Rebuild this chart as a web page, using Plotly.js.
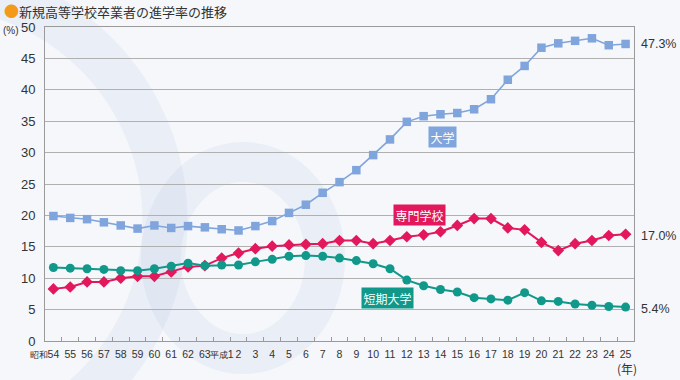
<!DOCTYPE html>
<html>
<head>
<meta charset="utf-8">
<script src="https://cdn.plot.ly/plotly-3.0.1.min.js"></script>
<style>html,body{margin:0;padding:0;background:#f5f7fb;}#chart{width:680px;height:380px;}</style>
</head>
<body>
<div id="chart"></div>
<script>
// ---- data ----
var years = ['昭和54','55','56','57','58','59','60','61','62','63',
  '平成1','2','3','4','5','6','7','8','9','10','11','12','13','14','15',
  '16','17','18','19','20','21','22','23','24','25'];
var daigaku = [19.9,19.6,19.4,18.9,18.4,17.9,18.4,18.0,18.3,18.1,
  17.8,17.6,18.3,19.1,20.4,21.7,23.6,25.3,27.2,29.6,32.1,34.9,35.8,36.1,36.3,
  36.9,38.5,41.6,43.8,46.7,47.4,47.8,48.2,47.1,47.3];
var senmon = [8.3,8.6,9.4,9.4,10.0,10.3,10.3,11.0,11.8,12.0,
  13.2,14.0,14.7,15.1,15.3,15.4,15.5,16.0,16.0,15.5,16.0,16.6,16.9,17.4,18.4,
  19.5,19.5,18.0,17.7,15.7,14.4,15.5,16.0,16.8,17.0];
var tanki = [11.7,11.6,11.5,11.4,11.2,11.2,11.5,11.9,12.4,12.0,
  12.1,12.1,12.6,13.0,13.5,13.6,13.5,13.2,12.8,12.3,11.5,9.7,8.8,8.2,7.8,
  6.9,6.7,6.5,7.7,6.4,6.3,5.9,5.7,5.5,5.4];
var seriesNames = ['大学','専門学校','短期大学'];
var endLabels = ['47.3%','17.0%','5.4%'];
var chartTitle = '新規高等学校卒業者の進学率の推移';

// ---- layout helpers (pixel -> paper) ----
var L = 45, R = 46, T = 27, B = 39, W = 680, H = 380;
var PW = W - L - R, PH = H - T - B;
function px(x){ return (x - L) / PW; }
function py(y){ return (H - B - y) / PH; }

// tick labels: era prefix drawn condensed (as in the reference)
var eraRe = /^(昭和|平成)(\d+)$/;
var preSize = 8.5;
var tickText = years.map(function(s, i){
  var m = s.match(eraRe);
  if (!m) return s;
  var pre = '<span style="font-size:' + preSize + 'px">' + m[1] + '</span>' + m[2];
  // first label: balance the prefix so the digits sit under the point
  if (i === 0) pre += '<span style="font-size:' + preSize + 'px">\u3000\u3000</span>';
  return pre;
});

var cBlue = '#7fa5dc', cRed = '#e3175b', cTeal = '#10998a';

var traces = [
  {x: years, y: daigaku, name: seriesNames[0], type: 'scatter', mode: 'lines+markers',
   line: {color: cBlue, width: 1.6}, marker: {symbol: 'square', size: 8.5, color: cBlue}},
  {x: years, y: senmon, name: seriesNames[1], type: 'scatter', mode: 'lines+markers',
   line: {color: cRed, width: 2}, marker: {symbol: 'diamond', size: 9, color: cRed}},
  {x: years, y: tanki, name: seriesNames[2], type: 'scatter', mode: 'lines+markers',
   line: {color: cTeal, width: 2}, marker: {symbol: 'circle', size: 9, color: cTeal}}
];

var ringColor = 'rgba(190,204,228,0.2)';
function ring(cx, cy, rx, ry, w){
  return {type:'circle', xref:'paper', yref:'paper', layer:'below',
    x0:px(cx-rx), x1:px(cx+rx), y0:py(cy+ry), y1:py(cy-ry),
    line:{color:ringColor, width:w}, fillcolor:'rgba(0,0,0,0)'};
}

var txt = '#333333';
var fontLat = 'Liberation Sans, Arial, sans-serif';
var fontJp = 'Noto Sans CJK JP, sans-serif';

var annotations = [
  {xref:'paper', yref:'paper', x:px(3), y:py(10.5), xanchor:'left', yanchor:'middle', showarrow:false,
   borderpad:0,
   text:'<span style="color:#f39a1b;font-size:15px">●</span>' + chartTitle,
   font:{family:fontJp, size:13, color:txt}},
  {xref:'paper', yref:'paper', x:px(2), y:py(30), xanchor:'left', yanchor:'middle', showarrow:false,
   borderpad:0, text:'(%)', font:{family:fontLat, size:10, color:txt}},
  {xref:'paper', yref:'paper', x:px(627), y:py(368), xanchor:'center', yanchor:'middle', showarrow:false,
   borderpad:0, text:'(年)', font:{family:fontJp, size:12, color:txt}},
  {xref:'paper', yref:'paper', x:px(639), y:py(44), xanchor:'left', yanchor:'middle', showarrow:false,
   text:endLabels[0], font:{family:fontLat, size:12.5, color:txt}},
  {xref:'paper', yref:'paper', x:px(639), y:py(236), xanchor:'left', yanchor:'middle', showarrow:false,
   text:endLabels[1], font:{family:fontLat, size:12.5, color:txt}},
  {xref:'paper', yref:'paper', x:px(639), y:py(309), xanchor:'left', yanchor:'middle', showarrow:false,
   text:endLabels[2], font:{family:fontLat, size:12.5, color:txt}},
  {xref:'paper', yref:'paper', x:px(442.5), y:py(136.5), xanchor:'center', yanchor:'middle', showarrow:false,
   text:seriesNames[0], bgcolor:cBlue, borderpad:1.5, font:{family:fontJp, size:12, color:'#ffffff'}},
  {xref:'paper', yref:'paper', x:px(419.5), y:py(214.5), xanchor:'center', yanchor:'middle', showarrow:false,
   text:seriesNames[1], bgcolor:cRed, borderpad:1.5, font:{family:fontJp, size:12, color:'#ffffff'}},
  {xref:'paper', yref:'paper', x:px(387), y:py(297.5), xanchor:'center', yanchor:'middle', showarrow:false,
   text:seriesNames[2], bgcolor:cTeal, borderpad:1.5, font:{family:fontJp, size:12, color:'#ffffff'}}
];

var layout = {
  width: W, height: H,
  margin: {l: L, r: R, t: T, b: B, pad: 0},
  paper_bgcolor: '#f5f7fb',
  plot_bgcolor: 'rgba(0,0,0,0)',
  showlegend: false,
  xaxis: {type:'category', range:[-0.5, 34.5], showgrid:false, zeroline:false,
    showline:true, linecolor:'#9a9a9a', linewidth:1, mirror:true,
    ticks:'inside', tickson:'boundaries', ticklen:4, tickcolor:'#9a9a9a',
    tickmode:'array', tickvals: years, ticktext: tickText,
    tickangle:0, ticklabelstandoff:3,
    tickfont:{family:fontLat, size:10.5, color:txt}, fixedrange:true},
  yaxis: {range:[0, 50], dtick:5, showgrid:true, gridcolor:'#b0b0b0', gridwidth:1,
    zeroline:false, showline:true, linecolor:'#9a9a9a', linewidth:1, mirror:true,
    ticks:'', ticklabelstandoff:6,
    tickfont:{family:fontLat, size:13, color:txt}, fixedrange:true},
  shapes: [ ring(-70, 220, 235, 235, 45), ring(243, 258, 82, 96, 40) ],
  annotations: annotations
};

Plotly.newPlot('chart', traces, layout, {displayModeBar:false, staticPlot:true});
</script>
</body>
</html>
